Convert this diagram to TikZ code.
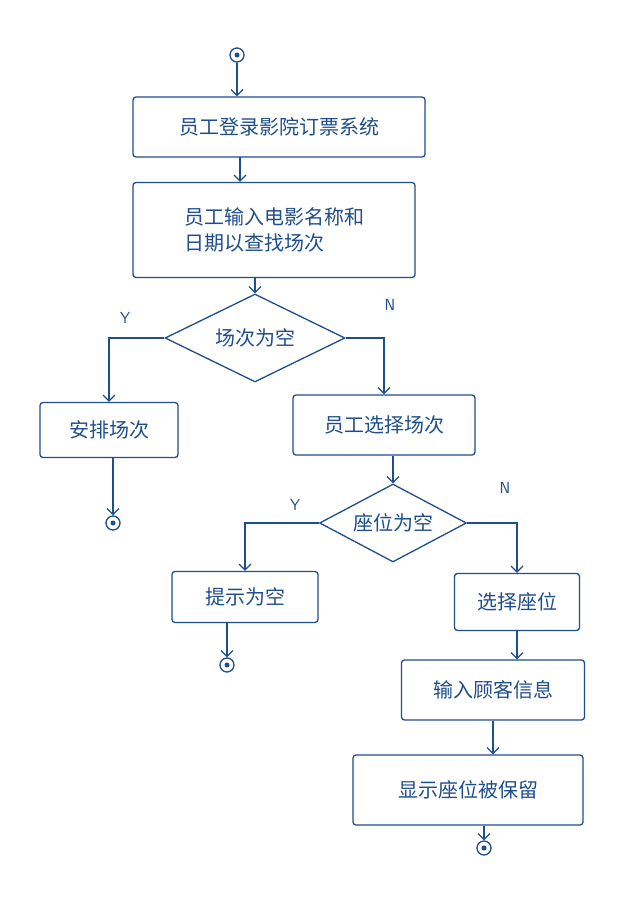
\documentclass[tikz,border=0pt]{standalone}
\usepackage{fontspec}
\newfontfamily\cjk{Noto Sans CJK SC}
\usetikzlibrary{shapes.geometric,arrows.meta}
\definecolor{ink}{HTML}{1F4E8C}
\begin{document}
\begin{tikzpicture}[x=1pt,y=-1pt,
  every node/.style={font=\cjk\fontsize{20}{26}\selectfont,text=ink},
  box/.style={draw=ink,line width=1.3pt,rounded corners=3pt,align=left,inner sep=4pt},
  dia/.style={draw=ink,line width=1.3pt,diamond,aspect=2,inner sep=1pt},
  term/.style={draw=ink,line width=1.3pt,circle,minimum size=14pt,inner sep=0pt,path picture={\fill[ink] (path picture bounding box.center) circle (2.5pt);}},
  arr/.style={draw=ink,line width=1.2pt,-{Straight Barb[length=6pt]}},
  lab/.style={font=\sffamily\fontsize{16}{18}\selectfont}]
\useasboundingbox[fill=white] (0,0) rectangle (634,918);
\node[term] (s) at (237,55) {};
\node[box,minimum width=292pt,minimum height=60pt] (b1) at (279,127) {员工登录影院订票系统};
\node[box,minimum width=282pt,minimum height=95pt] (b2) at (274,230) {员工输入电影名称和\\日期以查找场次};
\node[dia,minimum width=180pt,minimum height=88pt] (d1) at (255,338) {场次为空};
\node[lab] (y1) at (125,318) {Y};
\node[lab] (n1) at (390,305) {N};
\node[box,minimum width=138pt,minimum height=55pt] (b3) at (109,430) {安排场次};
\node[term] (e1) at (113,523) {};
\node[box,minimum width=182pt,minimum height=60pt] (b4) at (384,425) {员工选择场次};
\node[dia,minimum width=147pt,minimum height=78pt] (d2) at (393,523) {座位为空};
\node[lab] (y2) at (295,505) {Y};
\node[lab] (n2) at (505,488) {N};
\node[box,minimum width=146pt,minimum height=51pt] (b5) at (245,597) {提示为空};
\node[term] (e2) at (227,665) {};
\node[box,minimum width=125pt,minimum height=57pt] (b6) at (517,602) {选择座位};
\node[box,minimum width=183pt,minimum height=60pt] (b7) at (493,690) {输入顾客信息};
\node[box,minimum width=230pt,minimum height=70pt] (b8) at (468,790) {显示座位被保留};
\node[term] (e3) at (484,848) {};
\coordinate (c1) at (240,157);
\draw[arr] (s) -- (s|-b1.north);
\draw[arr] (c1) -- (c1|-b2.north);
\draw[arr] (d1.north|-b2.south) -- (d1.north);
\draw[arr] (d1.west) -| (b3.north);
\draw[arr] (d1.east) -| (b4.north);
\draw[arr] (b3.south-|e1) -- (e1);
\draw[arr] (b4.south-|d2) -- (d2.north);
\draw[arr] (d2.west) -| (b5.north);
\draw[arr] (d2.east) -| (b6.north);
\draw[arr] (b5.south-|e2) -- (e2);
\draw[arr] (b6.south) -- (b6.south|-b7.north);
\draw[arr] (b7.south) -- (b7.south|-b8.north);
\draw[arr] (b8.south-|e3) -- (e3);
\end{tikzpicture}
\end{document}
